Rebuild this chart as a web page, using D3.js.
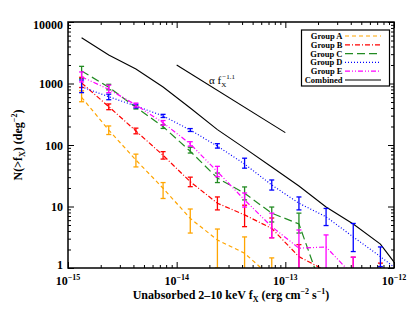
<!DOCTYPE html>
<html>
<head>
<meta charset="utf-8">
<script src="https://cdn.jsdelivr.net/npm/d3@7"></script>
<style>
  body { margin: 0; background: #fff; }
  text { font-family: "Liberation Serif", "DejaVu Serif", serif; font-weight: bold; }
</style>
</head>
<body>
<script>
// flux bins (erg cm^-2 s^-1)
var fluxes = [1.334e-15, 2.371e-15, 4.217e-15, 7.499e-15, 1.334e-14, 2.371e-14, 4.217e-14,
              7.499e-14, 1.334e-13, 2.371e-13, 4.217e-13, 7.499e-13, 1.334e-12];

var groupA    = [596, 175, 57, 19.8, 6.4, 2.85, 1.74, 0.7];
var groupA_lo = [505, 148, 44, 13.5, 3.7, 1.0, 0.9, 0.3];
var groupA_hi = [760, 204, 71, 24.5, 9.1, 4.3, 3.2, 1.46];

var groupB    = [1020, 420, 169, 68, 25.3, 11.3, 7.3, 4.4, 1.53, 0.9, 0.5, 0.4];
var groupB_lo = [860, 375, 152, 59, 21, 8.8, 4.7, 3.1, 0.8, null, 0.2, 0.15];
var groupB_hi = [1260, 465, 188, 78, 30, 14.3, 10.5, 6.5, 2.4, null, 1.5, 1.2];

var groupC    = [1600, 870, 410, 199, 79, 29, 16.4, 7.8, 5.2, 0.3];
var groupC_lo = [1200, 790, 385, 186, 74, 24.5, 12.8, 5.6, 3.7, null];
var groupC_hi = [1900, 970, 440, 214, 92, 35, 20.8, 9.8, 7.8, null];

var groupD    = [880, 610, 430, 297, 175, 96, 49, 22.4, 11.3, 6.8, 3.2, 1.53, 0.7];
var groupD_lo = [710, 545, 400, 280, 166, 89, 42, 18.5, 8.8, 4.9, 1.85, 1.05, null];
var groupD_hi = [1140, 670, 460, 315, 185, 105, 61, 27, 14.3, 9.3, 5.3, 2.2, null];

var groupE    = [1280, 805, 447, 230, 104, 36.8, 12.8, 4.7, 2.1, 2.2, 0.75];
var groupE_lo = [1060, 710, 415, 210, 96, 30.5, 9.8, 3.1, 0.8, 0.8, 0.3];
var groupE_hi = [1540, 940, 480, 250, 113, 45, 16.6, 7.8, 4.15, 3.45, 1.5];

var combined  = [5560, 2900, 1720, 877, 400, 178, 89, 44, 21.5, 9.8, 5.2, 2.45, 0.64];

var alphaFlux = [1e-14, 1e-13];
var alphaN    = [2000, 159];

var yTicks = [1, 10, 100, 1000, 10000];
var yTickLabels = ['1', '10', '100', '1000', '10000'];
var xTicks = [1e-15, 1e-14, 1e-13, 1e-12];
var xTickExps = ['\u221215', '\u221214', '\u221213', '\u221212'];

var groups = [
  { name: 'Group A', n: groupA, lo: groupA_lo, hi: groupA_hi, color: '#ffa500', dash: '4,3' },
  { name: 'Group B', n: groupB, lo: groupB_lo, hi: groupB_hi, color: '#ff0000', dash: '5,2,1,2' },
  { name: 'Group C', n: groupC, lo: groupC_lo, hi: groupC_hi, color: '#228b22', dash: '8,4' },
  { name: 'Group D', n: groupD, lo: groupD_lo, hi: groupD_hi, color: '#0000ff', dash: '1,2' },
  { name: 'Group E', n: groupE, lo: groupE_lo, hi: groupE_hi, color: '#ff00ff', dash: '5,2,1,2,1,2' }
];

var W = 415, H = 312;
var pLeft = 68, pRight = 394, pTop = 22, pBottom = 268;

var svg = d3.select('body').append('svg')
            .attr('width', W)
            .attr('height', H);

var x = d3.scaleLog().domain([1e-15, 1e-12]).range([pLeft, pRight]);
var y = d3.scaleLog().domain([1, 10000]).range([pBottom, pTop]);

svg.append('clipPath').attr('id', 'plot')
   .append('rect')
   .attr('x', pLeft).attr('y', pTop)
   .attr('width', pRight - pLeft).attr('height', pBottom - pTop);

var plot = svg.append('g').attr('clip-path', 'url(#plot)');

var line = d3.line()
             .x(function(d) { return x(d[0]); })
             .y(function(d) { return y(d[1]); });

// combined curve and the power-law guide
plot.append('path')
    .attr('d', line(combined.map(function(v, i) { return [fluxes[i], v]; })))
    .attr('fill', 'none').attr('stroke', '#000').attr('stroke-width', 1.1);

plot.append('path')
    .attr('d', line(alphaFlux.map(function(f, i) { return [f, alphaN[i]]; })))
    .attr('fill', 'none').attr('stroke', '#000').attr('stroke-width', 1.1);

groups.forEach(function(g) {
  var pts = g.n.map(function(v, i) { return [fluxes[i], v]; });
  plot.append('path')
      .attr('d', line(pts))
      .attr('fill', 'none')
      .attr('stroke', g.color)
      .attr('stroke-width', 1.2)
      .attr('stroke-dasharray', g.dash);

  var bars = [];
  g.n.forEach(function(v, i) {
    if (g.lo[i] != null) bars.push({ f: fluxes[i], lo: g.lo[i], hi: g.hi[i] });
  });
  var eb = plot.selectAll(null).data(bars).enter().append('g')
               .attr('stroke', g.color).attr('stroke-width', 1.3);
  eb.append('line')
    .attr('x1', function(d) { return x(d.f); })
    .attr('x2', function(d) { return x(d.f); })
    .attr('y1', function(d) { return y(d.lo); })
    .attr('y2', function(d) { return y(d.hi); });
  eb.append('line')
    .attr('x1', function(d) { return x(d.f) - 2.5; })
    .attr('x2', function(d) { return x(d.f) + 2.5; })
    .attr('y1', function(d) { return y(d.lo); })
    .attr('y2', function(d) { return y(d.lo); });
  eb.append('line')
    .attr('x1', function(d) { return x(d.f) - 2.5; })
    .attr('x2', function(d) { return x(d.f) + 2.5; })
    .attr('y1', function(d) { return y(d.hi); })
    .attr('y2', function(d) { return y(d.hi); });
});

// ticks, inward on all four sides
var xMinor = [], yMinor = [];
[-15, -14, -13].forEach(function(e) {
  for (var k = 2; k < 10; k++) xMinor.push(k * Math.pow(10, e));
});
[0, 1, 2, 3].forEach(function(e) {
  for (var k = 2; k < 10; k++) yMinor.push(k * Math.pow(10, e));
});

function addAxis(axis, scale, tf, vals, size) {
  var a = svg.append('g').attr('transform', tf)
             .call(axis(scale).tickValues(vals).tickSize(-size).tickFormat(''));
  a.select('.domain').remove();
  a.selectAll('line').attr('stroke', '#000').attr('stroke-width', 1);
}
addAxis(d3.axisBottom, x, 'translate(0,' + pBottom + ')', xTicks, 6);
addAxis(d3.axisBottom, x, 'translate(0,' + pBottom + ')', xMinor, 3);
addAxis(d3.axisTop, x, 'translate(0,' + pTop + ')', xTicks, 6);
addAxis(d3.axisTop, x, 'translate(0,' + pTop + ')', xMinor, 3);
addAxis(d3.axisLeft, y, 'translate(' + pLeft + ',0)', yTicks, 6);
addAxis(d3.axisLeft, y, 'translate(' + pLeft + ',0)', yMinor, 3);
addAxis(d3.axisRight, y, 'translate(' + pRight + ',0)', yTicks, 6);
addAxis(d3.axisRight, y, 'translate(' + pRight + ',0)', yMinor, 3);

svg.append('rect')
   .attr('x', pLeft).attr('y', pTop)
   .attr('width', pRight - pLeft).attr('height', pBottom - pTop)
   .attr('fill', 'none').attr('stroke', '#000').attr('stroke-width', 1.5);

// tick labels (end labels pulled inside the axis span)
svg.selectAll('.ylab').data(yTicks).enter().append('text')
   .attr('x', pLeft - 5)
   .attr('y', function(d, i) {
     if (i === 0) return y(d) + 0.5;
     if (i === yTicks.length - 1) return y(d) + 7;
     return y(d) + 4.5;
   })
   .attr('text-anchor', 'end')
   .style('font-size', '12px')
   .text(function(d, i) { return yTickLabels[i]; });

var xl = svg.selectAll('.xlab').data(xTicks).enter().append('text')
            .attr('x', function(d) { return x(d); })
            .attr('y', 284.5)
            .attr('text-anchor', 'middle')
            .style('font-size', '12px');
xl.append('tspan').text('10');
xl.append('tspan').attr('dy', -5).style('font-size', '8px')
  .text(function(d, i) { return xTickExps[i]; });

// axis titles
var xt = svg.append('text')
            .attr('x', 231).attr('y', 299)
            .attr('text-anchor', 'middle')
            .style('font-size', '12px');
xt.append('tspan').text('Unabsorbed 2\u201310 keV f');
xt.append('tspan').attr('dy', 2.5).style('font-size', '8px').text('X');
xt.append('tspan').attr('dy', -2.5).text(' (erg cm');
xt.append('tspan').attr('dy', -5).style('font-size', '8px').text('\u22122');
xt.append('tspan').attr('dy', 5).text(' s');
xt.append('tspan').attr('dy', -5).style('font-size', '8px').text('\u22121');
xt.append('tspan').attr('dy', 5).text(')');

var yt = svg.append('text')
            .attr('transform', 'translate(22,145) rotate(-90)')
            .attr('text-anchor', 'middle')
            .style('font-size', '12px');
yt.append('tspan').text('N(>f');
yt.append('tspan').attr('dy', 2.5).style('font-size', '8px').text('X');
yt.append('tspan').attr('dy', -2.5).text(') (deg');
yt.append('tspan').attr('dy', -5).style('font-size', '8px').text('\u22122');
yt.append('tspan').attr('dy', 5).text(')');

// power-law label
var al = svg.append('text')
            .attr('x', 209).attr('y', 84)
            .style('font-size', '11px')
            .style('font-weight', 'normal');
al.append('tspan').text('\u03b1 f');
al.append('tspan').attr('dy', 2.5).style('font-size', '7px').text('X');
al.append('tspan').attr('dx', -4).attr('dy', -8).style('font-size', '7px').text('\u22121.1');

// legend
var legend = svg.append('g');
legend.append('rect')
      .attr('x', 301.5).attr('y', 30)
      .attr('width', 88).attr('height', 56)
      .attr('fill', '#fff').attr('stroke', '#000').attr('stroke-width', 1.2);

var legendItems = groups.map(function(g) { return { name: g.name, color: g.color, dash: g.dash }; });
legendItems.push({ name: 'Combined', color: '#000', dash: null });

var li = legend.selectAll(null).data(legendItems).enter().append('g')
               .attr('transform', function(d, i) { return 'translate(0,' + (36 + i * 8.8) + ')'; });
li.append('text')
  .attr('x', 342.5).attr('y', 3)
  .attr('text-anchor', 'end')
  .style('font-size', '8.5px')
  .text(function(d) { return d.name; });
li.append('line')
  .attr('x1', 345).attr('x2', 381)
  .attr('y1', 0).attr('y2', 0)
  .attr('stroke', function(d) { return d.color; })
  .attr('stroke-width', 1.2)
  .attr('stroke-dasharray', function(d) { return d.dash; });
</script>
</body>
</html>
